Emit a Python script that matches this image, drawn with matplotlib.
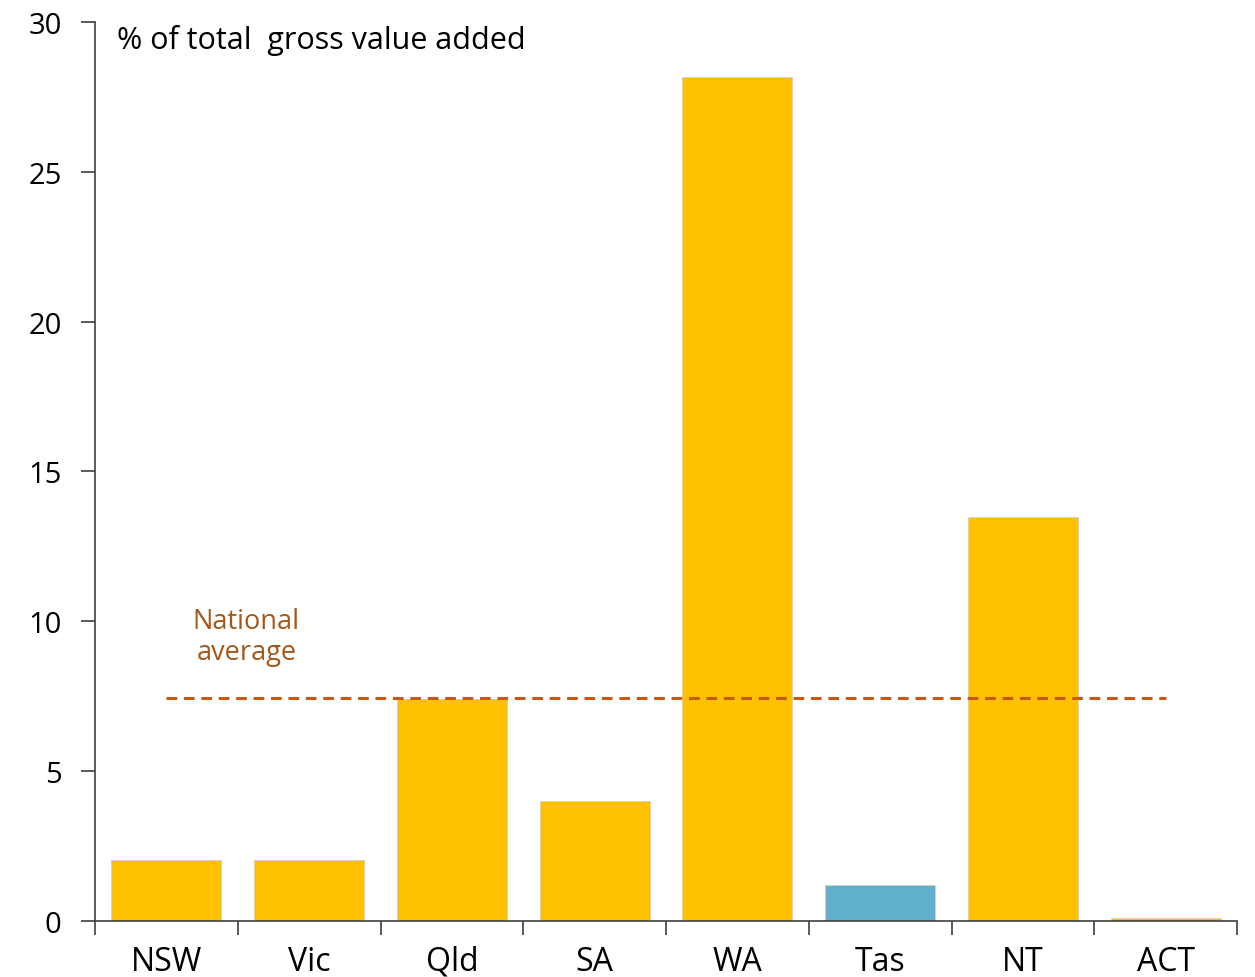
#!/usr/bin/env python
# -*- coding: utf-8 -*-

"""
Mining share of gross value added by state, with national average line.
"""

# Third party modules.
import matplotlib
matplotlib.use("Agg")
import matplotlib.pyplot as plt

# Globals and constants variables.
states = ["NSW", "Vic", "Qld", "SA", "WA", "Tas", "NT", "ACT"]
share_gva = [2.05, 2.02, 7.4, 4.0, 28.15, 1.2, 13.48, 0.1]
national_average = 7.45
highlight = "Tas"

YELLOW = "#FFC000"
BLUE = "#5FAFCD"
AVG_LINE = "#C55A11"
AVG_TEXT = "#A5581A"


def run():
    plt.rcParams["font.family"] = ["Open Sans", "DejaVu Sans"]

    fig = plt.figure(figsize=(12.55, 9.78), dpi=100)
    ax = fig.add_axes([0.0757, 0.0573, 0.9100, 0.9192])

    x = list(range(len(states)))
    colors = [BLUE if s == highlight else YELLOW for s in states]
    ax.bar(x, share_gva, width=0.77, color=colors, edgecolor="#D0D0D0",
           linewidth=0.6, zorder=2)

    ax.plot([x[0], x[-1]], [national_average, national_average],
            color=AVG_LINE, linewidth=2.2, dashes=(3.5, 2.2), zorder=3)
    ax.text(0.56, 9.5, "National\naverage", color=AVG_TEXT, fontsize=19.5,
            ha="center", va="center", linespacing=1.15)

    # axis title sits inside the plot, top left
    ax.text(0.019, 29.4, "% of total  gross value added", fontsize=22,
            ha="left", va="center", transform=ax.get_yaxis_transform())

    ax.set_xlim(-0.5, len(states) - 0.5)
    ax.set_ylim(0, 30)
    ax.set_yticks(range(0, 31, 5))

    ax.set_xticks([i - 0.5 for i in range(len(states) + 1)])
    ax.set_xticklabels([])
    ax.set_xticks(x, minor=True)
    ax.set_xticklabels(states, minor=True, fontsize=23)
    ax.tick_params(axis="x", which="major", length=10, width=1.2,
                   color="#404040", direction="out")
    ax.tick_params(axis="x", which="minor", length=0, pad=17)
    ax.tick_params(axis="y", length=10, width=1.2, color="#404040",
                   labelsize=21, pad=14)

    for side in ("top", "right"):
        ax.spines[side].set_visible(False)
    for side in ("left", "bottom"):
        ax.spines[side].set_color("#404040")
        ax.spines[side].set_linewidth(1.2)

    fig.savefig("out.png", dpi=100)


def main():
    run()


if __name__ == '__main__':  # pragma: no cover
    main()
